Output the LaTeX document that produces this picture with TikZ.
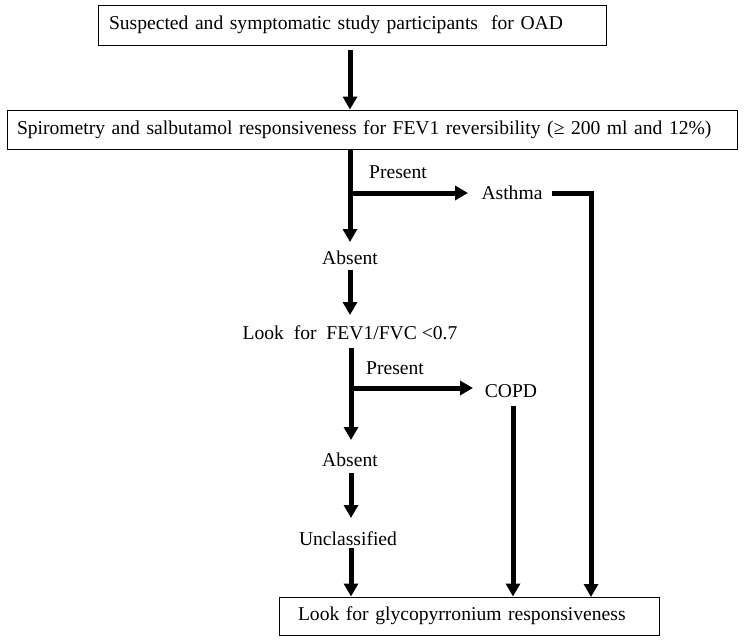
\documentclass[tikz,border=0pt]{standalone}
\usepackage{fontspec}
\setmainfont{Liberation Serif}
\usetikzlibrary{arrows.meta}
\begin{document}
\begin{tikzpicture}[x=1pt,y=1pt,
  every node/.style={font=\fontsize{19.6}{24}\selectfont},
  boxnode/.style={draw,line width=1pt,align=left,inner ysep=0pt,minimum height=#1},
  lbl/.style={inner sep=0pt},
  arr/.style={line width=5pt,-{Triangle[width=14pt,length=13pt]}},
  bar/.style={line width=5pt}]
\useasboundingbox (0,0) rectangle (745,-641);
% boxes
\node[boxnode=40pt,inner xsep=11pt,text width=486pt] (s) at (352,-25)
  {Suspected and symptomatic study participants\ \ for OAD};
\node[boxnode=39pt,inner xsep=10pt,text width=710pt] (sp) at (372,-129.5)
  {Spirometry and salbutamol responsiveness for FEV1 reversibility (≥ 200 ml and 12\%)};
\node[boxnode=38pt,inner xsep=19pt,text width=342pt] (gly) at (469,-616)
  {Look for glycopyrronium responsiveness};
% labels
\node[lbl] (pr1) at (398,-172) {Present};
\node[lbl] (ast) at (512,-193) {Asthma};
\node[lbl] (ab1) at (350,-258) {Absent};
\node[lbl] (look) at (350,-333) {Look\ \ for\ \ FEV1/FVC <0.7};
\node[lbl] (pr2) at (395,-368) {Present};
\node[lbl] (copd) at (511,-391) {COPD};
\node[lbl] (ab2) at (350,-460) {Absent};
\node[lbl] (unc) at (348,-539) {Unclassified};
% coordinates
\coordinate (c0) at (350,-50);
\coordinate (j1) at (350,-193);
\coordinate (t1) at (350,-242);
\coordinate (b1) at (468,-193);
\coordinate (a1) at (552,-193);
\coordinate (a2) at (591,-597);
\coordinate (c2) at (350,-270);
\coordinate (t2) at (350,-315);
\coordinate (c3) at (351,-348);
\coordinate (j2) at (351,-388);
\coordinate (t3) at (351,-440);
\coordinate (b2) at (473,-388);
\coordinate (k1) at (513,-406);
\coordinate (c4) at (351,-473);
\coordinate (t4) at (351,-518);
\coordinate (c5) at (351,-548);
% connectors
\draw[arr] (c0) -- (sp.north -| c0);
\draw[arr] (sp.south -| j1) -- (t1);
\draw[arr] (j1) -- (b1);
\draw[arr] (a1) -| (a2);
\draw[arr] (c2) -- (t2);
\draw[arr] (c3) -- (t3);
\draw[arr] (j2) -- (b2);
\draw[arr] (k1) -- (gly.north -| k1);
\draw[arr] (c4) -- (t4);
\draw[arr] (c5) -- (gly.north -| c5);
\end{tikzpicture}
\end{document}
